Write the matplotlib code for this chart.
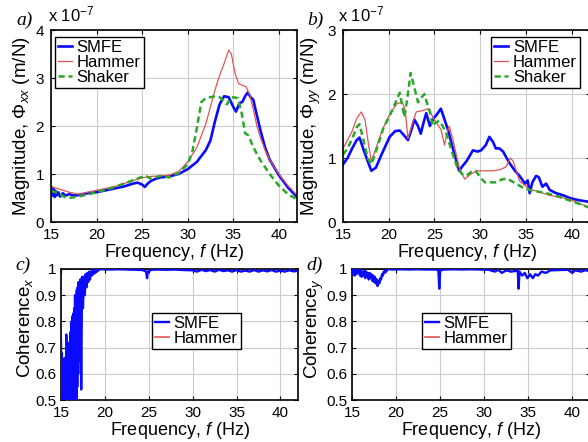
import numpy as np
import matplotlib
matplotlib.use('Agg')
import matplotlib.pyplot as plt

plt.rcParams['font.family'] = ['Liberation Sans', 'DejaVu Sans']
plt.rcParams['mathtext.fontset'] = 'custom'
plt.rcParams['mathtext.rm'] = 'Liberation Sans'
plt.rcParams['mathtext.it'] = 'Liberation Sans:italic'

# ---- panel a: magnitude Phi_xx (x 1e-7 m/N)
fa_smfe = [15, 15.1, 15.2, 15.3, 15.4, 15.5, 15.6, 15.8, 16, 16.3, 16.6, 17, 17.5, 18, 19, 20, 21, 22, 23, 24,
           24.5, 25, 25.3, 25.6, 26, 26.5, 27, 28, 29, 30, 31, 32, 32.5, 33, 33.5, 34, 34.5, 35, 35.3, 35.7,
           36, 36.3, 36.6, 36.9, 37.2, 37.5, 38, 38.5, 39, 40, 41, 42]
a_smfe = [0.6, 0.72, 0.55, 0.68, 0.52, 0.65, 0.55, 0.62, 0.53, 0.6, 0.55, 0.58, 0.55, 0.56, 0.6, 0.62, 0.66, 0.7, 0.74, 0.8,
          0.82, 0.78, 0.73, 0.8, 0.86, 0.9, 0.93, 0.95, 1.0, 1.1, 1.25, 1.5, 1.7, 2.1, 2.45, 2.62, 2.6, 2.4, 2.3, 2.48,
          2.5, 2.62, 2.7, 2.6, 2.55, 2.3, 1.9, 1.55, 1.3, 0.98, 0.72, 0.52]
fa_ham = [15, 16, 17, 18, 19, 20, 21, 22, 23, 24, 25, 26, 27, 28, 29, 30, 31, 32, 33,
          33.5, 34, 34.5, 34.8, 35.2, 35.6, 36, 36.4, 36.8, 37.2, 37.6, 38, 38.5, 39, 40, 41, 42]
a_ham = [0.74, 0.68, 0.62, 0.58, 0.62, 0.66, 0.7, 0.74, 0.8, 0.86, 0.92, 0.95, 0.96, 0.98, 1.05, 1.25, 1.55, 2.05, 2.75,
         3.05, 3.3, 3.58, 3.5, 3.1, 2.88, 2.85, 2.82, 2.65, 2.35, 2.0, 1.75, 1.5, 1.3, 1.0, 0.76, 0.56]
fa_shk = [15, 15.5, 16, 16.5, 17, 18, 19, 20, 21, 22, 23, 24, 25, 25.5, 26, 26.5, 27, 28, 29, 30,
          30.5, 31, 31.5, 32, 32.5, 33, 33.5, 34, 34.3, 34.7, 35, 35.5, 35.9, 36.3, 36.7, 37, 37.5, 38, 39, 40, 41, 42]
a_shk = [0.65, 0.62, 0.58, 0.52, 0.5, 0.53, 0.57, 0.62, 0.67, 0.73, 0.8, 0.87, 0.94, 0.95, 0.9, 0.93, 0.96, 0.93, 1.02, 1.2,
         1.45, 1.95, 2.5, 2.58, 2.6, 2.62, 2.6, 2.52, 2.45, 2.58, 2.6, 2.58, 2.3, 1.85, 1.8, 1.65, 1.45, 1.28, 1.0, 0.76, 0.58, 0.47]

# ---- panel b: magnitude Phi_yy (x 1e-7 m/N)
fb_smfe = [15, 15.5, 16, 16.5, 16.8, 17.2, 17.7, 18.1, 18.6, 19.2, 20.1, 20.7, 21.2, 21.7, 22.1, 22.5, 22.8, 23.2, 23.5, 23.8,
           24.1, 24.5, 24.9, 25.2, 25.7, 26.1, 26.5, 27.1, 27.7, 28.1, 28.5, 29.2, 29.7, 30.1, 30.6, 31.0, 31.4, 31.7, 32.1, 32.5,
           33.2, 33.8, 34.3, 34.9, 35.2, 35.4, 35.7, 36.1, 36.4, 36.8, 37.2, 37.6, 38.3, 39.0, 39.9, 40.8, 41.7, 42]
b_smfe = [0.9, 1.0, 1.15, 1.28, 1.32, 1.15, 0.95, 0.8, 0.85, 1.05, 1.33, 1.42, 1.43, 1.35, 1.28, 1.45, 1.6, 1.5, 1.38, 1.55,
          1.7, 1.5, 1.62, 1.67, 1.77, 1.6, 1.43, 1.1, 0.8, 0.88, 0.95, 1.12, 1.1, 1.12, 1.2, 1.33, 1.25, 1.15, 1.15, 1.1,
          0.92, 0.8, 0.72, 0.6, 0.65, 0.45, 0.62, 0.72, 0.7, 0.55, 0.6, 0.5, 0.45, 0.42, 0.37, 0.34, 0.32, 0.3]
fb_ham = [15, 15.5, 16, 16.5, 17, 17.4, 17.8, 18.1, 18.6, 19.2, 19.8, 20.4, 20.9, 21.5, 21.8, 22.1, 22.5, 23, 23.7, 24.3,
          24.8, 25.2, 25.7, 26.1, 26.3, 26.6, 27, 27.7, 28.3, 29, 29.6, 30.5, 31.4, 32.2, 32.8, 33.3, 33.6, 34.3, 35.4, 36.5,
          37.5, 38.5, 39.7, 40.7, 42]
b_ham = [1.15, 1.28, 1.42, 1.62, 1.72, 1.6, 1.2, 0.95, 1.15, 1.4, 1.6, 1.75, 1.85, 1.87, 1.75, 1.3, 1.5, 1.72, 1.74, 1.77,
         1.65, 1.55, 1.45, 1.2, 1.35, 1.5, 1.3, 0.85, 0.67, 0.75, 0.8, 0.8, 0.8, 0.82, 0.86, 1.0, 0.95, 0.64, 0.51, 0.47,
         0.42, 0.39, 0.36, 0.3, 0.22]
fb_shk = [15, 15.5, 16, 16.5, 16.8, 17.2, 17.7, 18.1, 18.7, 19.4, 20.1, 20.7, 21.2, 21.5, 21.7, 22.0, 22.4, 22.8, 23.2, 23.6,
          23.9, 24.2, 24.5, 24.8, 25.1, 25.5, 25.9, 26.3, 26.9, 27.5, 28.0, 28.4, 29.0, 29.5, 30.0, 30.5, 31.0, 31.7, 32.3, 32.8,
          33.3, 33.9, 34.5, 35.4, 36.5, 37.5, 38.5, 39.7, 40.7, 42]
b_shk = [1.05, 1.15, 1.3, 1.48, 1.53, 1.3, 1.0, 0.9, 1.15, 1.46, 1.66, 1.85, 2.02, 1.8, 1.64, 1.9, 2.33, 2.1, 1.87, 1.95,
         2.0, 1.85, 1.72, 1.5, 1.55, 1.58, 1.5, 1.38, 1.1, 0.85, 0.75, 0.72, 0.78, 0.8, 0.7, 0.62, 0.62, 0.62, 0.66, 0.68,
         0.65, 0.6, 0.55, 0.5, 0.47, 0.44, 0.4, 0.34, 0.29, 0.22]

# ---- panel c: coherence x
fc_smfe = [15.0, 15.05, 15.1, 15.15, 15.2, 15.25, 15.3, 15.35, 15.4, 15.45, 15.5, 15.55, 15.6, 15.65, 15.7, 15.75,
           15.8, 15.85, 15.9, 15.95, 16.0, 16.05, 16.1, 16.15, 16.2, 16.25, 16.3, 16.35, 16.4, 16.45, 16.5, 16.55,
           16.6, 16.65, 16.7, 16.75, 16.8, 16.85, 16.9, 16.95, 17.0, 17.1, 17.2, 17.3, 17.4, 17.5, 17.6, 17.7, 17.8, 17.9,
           18.0, 18.1, 18.2, 18.3, 18.4, 18.5, 18.6, 18.7, 18.8, 18.9, 19.0, 19.1, 19.2, 19.3, 19.4,
           19.7, 20.5, 21.5, 22.5, 23.5, 24.3, 24.7, 24.8, 24.9, 25.3, 26, 27, 28, 29, 30, 30.5, 31, 31.5,
           32, 32.5, 33, 33.5, 34, 34.5, 35, 35.5, 36, 36.5, 37, 37.5, 38, 38.5, 39, 39.5, 40, 40.5, 41, 41.5, 42]
c_smfe = [0.73, 0.48, 0.68, 0.48, 0.62, 0.48, 0.6, 0.48, 0.66, 0.48, 0.64, 0.48, 0.75, 0.48, 0.72, 0.48,
          0.7, 0.48, 0.68, 0.48, 0.72, 0.48, 0.76, 0.48, 0.8, 0.48, 0.82, 0.5, 0.83, 0.48, 0.85, 0.52,
          0.9, 0.48, 0.88, 0.48, 0.92, 0.55, 0.93, 0.6, 0.95, 0.65, 0.96, 0.54, 0.97, 0.85, 0.97, 0.9, 0.98, 0.93,
          0.985, 0.95, 0.99, 0.96, 0.99, 0.975, 0.995, 0.98, 0.997, 0.985, 0.998, 0.99, 0.999, 0.995, 1.0,
          0.999, 0.998, 0.999, 0.998, 0.997, 0.996, 0.99, 0.965, 0.99, 0.997, 0.998, 0.997, 0.998, 0.996, 0.995, 0.99, 0.997, 0.992,
          0.996, 0.99, 0.997, 0.992, 0.995, 0.99, 0.996, 0.99, 0.994, 0.99, 0.996, 0.99, 0.995, 0.991, 0.996, 0.99, 0.994, 0.99, 0.995, 0.991, 0.993]
fc_ham = [15, 42]
c_ham = [1.0, 1.0]

# ---- panel d: coherence y
fd_smfe = [15.0, 15.1, 15.2, 15.3, 15.4, 15.5, 15.6, 15.7, 15.8, 15.9, 16.0, 16.1, 16.2, 16.3, 16.4,
           16.5, 16.6, 16.7, 16.8, 16.9, 17.0, 17.1, 17.2, 17.3, 17.4, 17.5, 17.6, 17.7, 17.8, 17.9,
           18.0, 18.1, 18.2, 18.3, 18.4, 18.5, 18.6, 18.7, 18.8, 18.9, 19.0,
           19.5, 20.5, 21.5, 22.5, 23.5, 24.5, 24.8, 24.9, 25.0, 25.5, 26.5, 27.5, 28.5, 29.5, 30.5, 31.2, 31.6, 32.0,
           32.5, 33.0, 33.5, 33.8, 33.9, 34.0, 34.3, 34.6, 34.9, 35.2, 35.5, 35.8, 36.1, 36.5, 37.0, 37.5, 38.5, 39.5,
           40.0, 40.3, 41.0, 41.5, 42.0]
d_smfe = [1.0, 0.98, 0.995, 0.975, 1.0, 0.98, 0.995, 0.985, 1.0, 0.975, 0.995, 0.97, 0.99, 0.975, 0.995,
          0.965, 0.99, 0.97, 0.985, 0.96, 0.985, 0.965, 0.98, 0.955, 0.975, 0.95, 0.97, 0.945, 0.96, 0.935,
          0.955, 0.945, 0.965, 0.96, 0.98, 0.975, 0.99, 0.985, 0.995, 0.99, 1.0,
          0.998, 0.999, 0.998, 0.999, 0.998, 0.998, 0.995, 0.925, 0.995, 0.998, 0.999, 0.998, 0.999, 0.998, 0.997, 0.99, 0.997, 0.985,
          0.995, 0.99, 0.992, 0.995, 0.925, 0.99, 0.975, 0.985, 0.965, 0.98, 0.965, 0.98, 0.975, 0.99, 0.985, 0.995, 0.996, 0.997,
          0.985, 0.995, 0.99, 0.996, 0.99]
fd_ham = [15, 42]
d_ham = [1.0, 1.0]

labels = ['SMFE', 'Hammer', 'Shaker']
blue = '#0a0aff'
red = '#e05555'
green = '#2aa82a'

fig = plt.figure(figsize=(5.88, 4.42), dpi=100)
ax_a = fig.add_axes([51/588, 1-222/442, 246/588, 192/442])
ax_b = fig.add_axes([343/588, 1-222/442, 247/588, 192/442])
ax_c = fig.add_axes([61/588, 1-400/442, 237/588, 131/442])
ax_d = fig.add_axes([352/588, 1-400/442, 238/588, 131/442])

leg_kw = dict(fontsize=12, frameon=True, fancybox=False, edgecolor='black', framealpha=1,
              handlelength=0.8, handletextpad=0.3, labelspacing=0.0, borderpad=0.2, borderaxespad=0)


def style(ax, ypad=3):
    ax.set_xlim(15, 42)
    ax.set_xticks([15, 20, 25, 30, 35, 40])
    ax.grid(True, color='#cccccc', lw=0.8)
    ax.set_axisbelow(True)
    ax.tick_params(direction='in', length=3, width=0.8, labelsize=11, top=True, right=True)
    ax.tick_params(axis='x', pad=4)
    ax.tick_params(axis='y', pad=ypad)
    for s in ax.spines.values():
        s.set_linewidth(1.2)
    ax.set_xlabel('Frequency, $f$ (Hz)', fontsize=13, labelpad=0.3)


# a
ax_a.plot(fa_smfe, a_smfe, color=blue, lw=1.9, label=labels[0])
ax_a.plot(fa_ham, a_ham, color=red, lw=0.9, label=labels[1])
ax_a.plot(fa_shk, a_shk, color=green, lw=1.8, ls=(0, (2.5, 1.5)), label=labels[2])
ax_a.set_ylim(0, 4)
ax_a.set_yticks([0, 1, 2, 3, 4])
style(ax_a, ypad=5)
ax_a.set_ylabel('Magnitude, $\\Phi_{xx}$ (m/N)', fontsize=13.5)
ax_a.yaxis.set_label_coords(-0.078, 0.5)
ax_a.text(-0.012, 1.03, 'x 10$^{-7}$', transform=ax_a.transAxes, fontsize=12, ha='left', va='bottom')
ax_a.legend(loc='upper left', bbox_to_anchor=(0.016, 0.965), **leg_kw)

# b
ax_b.plot(fb_smfe, b_smfe, color=blue, lw=1.9, label=labels[0])
ax_b.plot(fb_ham, b_ham, color=red, lw=0.9, label=labels[1])
ax_b.plot(fb_shk, b_shk, color=green, lw=1.8, ls=(0, (2.5, 1.5)), label=labels[2])
ax_b.set_ylim(0, 3)
ax_b.set_yticks([0, 1, 2, 3])
style(ax_b, ypad=5)
ax_b.set_ylabel('Magnitude, $\\Phi_{yy}$ (m/N)', fontsize=13.5)
ax_b.yaxis.set_label_coords(-0.08, 0.5)
ax_b.text(-0.02, 1.03, 'x 10$^{-7}$', transform=ax_b.transAxes, fontsize=12, ha='left', va='bottom')
ax_b.legend(loc='upper right', bbox_to_anchor=(0.96, 0.965), **leg_kw)

# c
ax_c.plot(fc_ham, c_ham, color=red, lw=1.2, label=labels[1], zorder=2)
ax_c.plot(fc_smfe, c_smfe, color=blue, lw=1.7, label=labels[0], zorder=3)
ax_c.set_ylim(0.5, 1.0)
ax_c.set_yticks([0.5, 0.6, 0.7, 0.8, 0.9, 1.0])
ax_c.set_yticklabels(['0.5', '0.6', '0.7', '0.8', '0.9', '1'])
style(ax_c)
ax_c.set_ylabel('Coherence$_x$', fontsize=13.5)
ax_c.yaxis.set_label_coords(-0.11, 0.55)
h, l = ax_c.get_legend_handles_labels()
ax_c.legend(h[::-1], l[::-1], loc='upper left', bbox_to_anchor=(0.384, 0.667), **leg_kw)

# d
ax_d.plot(fd_ham, d_ham, color=red, lw=1.2, label=labels[1], zorder=2)
ax_d.plot(fd_smfe, d_smfe, color=blue, lw=1.7, label=labels[0], zorder=3)
ax_d.set_ylim(0.5, 1.0)
ax_d.set_yticks([0.5, 0.6, 0.7, 0.8, 0.9, 1.0])
ax_d.set_yticklabels(['0.5', '0.6', '0.7', '0.8', '0.9', '1'])
style(ax_d)
ax_d.set_ylabel('Coherence$_y$', fontsize=13.5)
ax_d.yaxis.set_label_coords(-0.109, 0.55)
h, l = ax_d.get_legend_handles_labels()
ax_d.legend(h[::-1], l[::-1], loc='upper left', bbox_to_anchor=(0.294, 0.667), **leg_kw)

# panel letters
for txt, x, y in [('a)', 25, 20), ('b)', 315, 20), ('c)', 23, 265), ('d)', 315, 265)]:
    fig.text(x/588, 1-y/442, txt, fontsize=14, style='italic', family='Liberation Serif',
             ha='center', va='center')

fig.savefig('out.png', dpi=100)
